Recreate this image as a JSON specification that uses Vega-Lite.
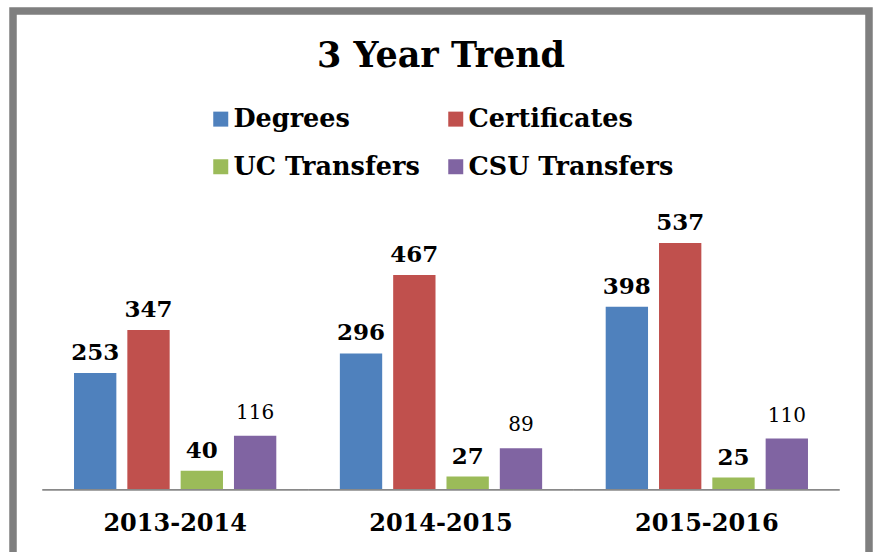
{
  "$schema": "https://vega.github.io/schema/vega-lite/v6.json",
  "width": 856,
  "height": 545,
  "autosize": {"type": "none"},
  "padding": {"left": 13, "top": 11, "right": 9, "bottom": 0},
  "background": "white",
  "config": {"view": {"stroke": "#7f7f7f", "strokeWidth": 7.5}, "font": "DejaVu Serif"},
  "title": {"text": "3 Year Trend", "font": "DejaVu Serif", "fontSize": 35, "fontWeight": "bold", "color": "black", "anchor": "middle", "baseline": "alphabetic", "offset": -91},
  "data": {"values": [
    {"year": "2013-2014", "series": "Degrees", "value": 253},
    {"year": "2013-2014", "series": "Certificates", "value": 347},
    {"year": "2013-2014", "series": "UC Transfers", "value": 40},
    {"year": "2013-2014", "series": "CSU Transfers", "value": 116},
    {"year": "2014-2015", "series": "Degrees", "value": 296},
    {"year": "2014-2015", "series": "Certificates", "value": 467},
    {"year": "2014-2015", "series": "UC Transfers", "value": 27},
    {"year": "2014-2015", "series": "CSU Transfers", "value": 89},
    {"year": "2015-2016", "series": "Degrees", "value": 398},
    {"year": "2015-2016", "series": "Certificates", "value": 537},
    {"year": "2015-2016", "series": "UC Transfers", "value": 25},
    {"year": "2015-2016", "series": "CSU Transfers", "value": 110}
  ]},
  "encoding": {
    "x": {"field": "year", "type": "nominal", "scale": {"paddingInner": 0, "paddingOuter": 0.11},
      "axis": {"title": null, "orient": "bottom", "offset": -67, "domain": false, "ticks": false, "tickSize": 0, "labelPadding": 41, "labelBaseline": "alphabetic", "labelFont": "DejaVu Serif", "labelFontSize": 24, "labelFontWeight": "bold", "labelColor": "black", "labelAngle": 0, "grid": false}}
  },
  "layer": [
    {
      "mark": {"type": "bar"},
      "encoding": {
        "xOffset": {"field": "series", "type": "nominal", "sort": ["Degrees", "Certificates", "UC Transfers", "CSU Transfers"], "scale": {"paddingInner": 0.206, "paddingOuter": 0.596}},
        "y": {"field": "value", "type": "quantitative", "scale": {"domain": [-146.3, 1043.4], "nice": false}, "axis": null},
        "color": {"field": "series", "type": "nominal", "sort": ["Degrees", "Certificates", "UC Transfers", "CSU Transfers"],
          "scale": {"domain": ["Degrees", "Certificates", "UC Transfers", "CSU Transfers"], "range": ["#4F81BD", "#C0504D", "#9BBB59", "#8064A2"]},
          "legend": {"title": null, "orient": "none", "direction": "horizontal", "legendX": 195, "legendY": 95, "columns": 2, "columnPadding": 23, "rowPadding": 21, "symbolType": "square", "symbolSize": 225, "symbolStrokeWidth": 0, "labelFont": "DejaVu Serif", "labelFontSize": 25.5, "labelFontWeight": "bold", "labelColor": "black", "labelOffset": 0, "labelLimit": 400}}
      }
    },
    {
      "transform": [{"filter": "datum.series === 'Degrees'"}],
      "mark": {"type": "rect", "color": "#898989"},
      "encoding": {
        "y": {"datum": 0, "type": "quantitative"},
        "y2": {"datum": -4}
      }
    },
    {
      "transform": [{"filter": "datum.series !== 'CSU Transfers'"}],
      "mark": {"type": "text", "font": "DejaVu Serif", "fontSize": 23, "fontWeight": "bold", "baseline": "alphabetic", "dy": -13, "color": "black"},
      "encoding": {
        "xOffset": {"field": "series", "type": "nominal", "sort": ["Degrees", "Certificates", "UC Transfers", "CSU Transfers"]},
        "y": {"field": "value", "type": "quantitative"},
        "text": {"field": "value", "type": "quantitative"}
      }
    },
    {
      "transform": [{"filter": "datum.series === 'CSU Transfers'"}],
      "mark": {"type": "text", "font": "DejaVu Serif", "fontSize": 20, "fontWeight": "normal", "baseline": "alphabetic", "dy": -17, "color": "black"},
      "encoding": {
        "xOffset": {"field": "series", "type": "nominal", "sort": ["Degrees", "Certificates", "UC Transfers", "CSU Transfers"]},
        "y": {"field": "value", "type": "quantitative"},
        "text": {"field": "value", "type": "quantitative"}
      }
    }
  ]
}
